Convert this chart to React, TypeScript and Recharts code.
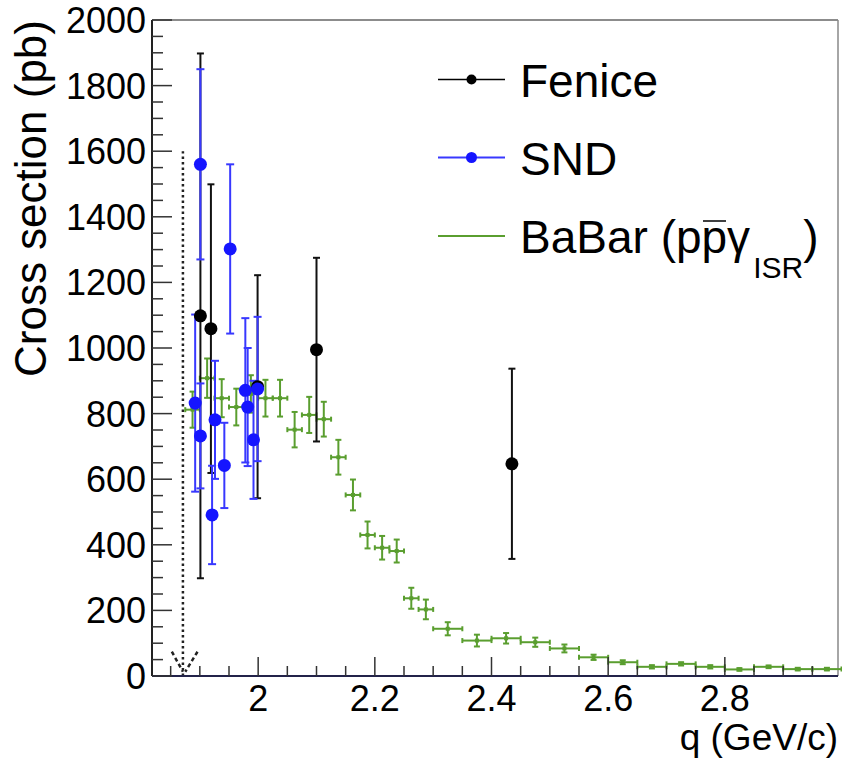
import React from 'react';
import { ScatterChart, Scatter, XAxis, YAxis, ErrorBar, ReferenceLine } from 'recharts';

if (typeof document !== 'undefined') document.body.style.margin = '0';

const FONT = '"Liberation Sans", Arial, Helvetica, sans-serif';

// Fenice
const feniceQ = [1.901, 1.919, 1.999, 2.1, 2.435];
const feniceSigma = [1098, 1059, 882, 995, 647];
const feniceErr = [800, 440, 340, 280, 290];

// SND
const sndQ = [1.892, 1.901, 1.901, 1.921, 1.926, 1.942, 1.952, 1.978, 1.982, 1.992, 1.999];
const sndSigma = [832, 1560, 732, 491, 781, 642, 1302, 871, 820, 720, 875];
const sndErr = [270, 290, 160, 150, 180, 130, 258, 220, 180, 180, 220];

// BaBar (p pbar gamma ISR), bin centres and half widths
const babarQ = [
  1.8875, 1.9125, 1.9375, 1.9625, 1.9875, 2.0125, 2.0375, 2.0625, 2.0875, 2.1125, 2.1375,
  2.1625, 2.1875, 2.2125, 2.2375, 2.2625, 2.2875, 2.325, 2.375, 2.425, 2.475, 2.525, 2.575,
  2.625, 2.675, 2.725, 2.775, 2.825, 2.875, 2.925, 2.975,
];
const babarHalfBin = [
  0.0125, 0.0125, 0.0125, 0.0125, 0.0125, 0.0125, 0.0125, 0.0125, 0.0125, 0.0125, 0.0125,
  0.0125, 0.0125, 0.0125, 0.0125, 0.0125, 0.0125, 0.025, 0.025, 0.025, 0.025, 0.025, 0.025,
  0.025, 0.025, 0.025, 0.025, 0.025, 0.025, 0.025, 0.025,
];
const babarSigma = [
  812, 908, 847, 820, 860, 847, 847, 751, 796, 783, 667, 552, 430, 391, 381, 237, 203,
  144, 108, 115, 103, 84, 57, 42, 28, 37, 28, 20, 28, 21, 21,
];
const babarErr = [
  55, 60, 58, 56, 57, 56, 56, 54, 55, 53, 53, 47, 41, 36, 35, 32, 30,
  20, 18, 16, 14, 12, 8, 6, 5, 5, 5, 4, 4, 4, 4,
];

// axis ticks
const xTicks = [1.85, 1.9, 1.95, 2, 2.05, 2.1, 2.15, 2.2, 2.25, 2.3, 2.35, 2.4, 2.45, 2.5, 2.55, 2.6, 2.65, 2.7, 2.75, 2.8, 2.85, 2.9, 2.95];
const xLabels = [2, 2.2, 2.4, 2.6, 2.8];
const yTicks = Array.from({ length: 41 }, (_, i) => i * 50);
const yLabels = [0, 200, 400, 600, 800, 1000, 1200, 1400, 1600, 1800, 2000];
const xDomain = [1.818, 2.994];

const fenice = feniceQ.map((x, i) => ({ x, y: feniceSigma[i], ey: feniceErr[i] }));
const snd = sndQ.map((x, i) => ({ x, y: sndSigma[i], ey: sndErr[i] }));
const babar = babarQ.map((x, i) => ({ x, y: babarSigma[i], ex: babarHalfBin[i], ey: babarErr[i] }));

const isIn = (list: number[], v: number) => list.some(l => Math.abs(l - v) < 1e-6);

const XTick = (props: any) => {
  const { x, y, payload } = props;
  const major = isIn(xLabels, payload.value);
  return (
    <g>
      <line x1={x} x2={x} y1={y} y2={y - (major ? 19 : 10)} stroke="#333" strokeWidth={1.5} />
      {major && (
        <text x={x} y={y + 35} textAnchor="middle" fontSize={36} fontFamily={FONT} fill="#000">
          {String(payload.value)}
        </text>
      )}
    </g>
  );
};

const YTick = (props: any) => {
  const { x, y, payload } = props;
  const major = isIn(yLabels, payload.value);
  return (
    <g>
      <line x1={x} x2={x + (major ? 20 : 11)} y1={y} y2={y} stroke="#333" strokeWidth={1.5} />
      {major && (
        <text x={x - 6} y={y + 13} textAnchor="end" fontSize={36} fontFamily={FONT} fill="#000">
          {String(payload.value)}
        </text>
      )}
    </g>
  );
};

const dot = (r: number, fill: string) => (p: any) => <circle cx={p.cx} cy={p.cy} r={r} fill={fill} />;
const square = (p: any) => <rect x={p.cx - 2} y={p.cy - 2} width={4} height={4} fill="#5a9e2f" />;

export default function App() {
  return (
    <div style={{ position: 'relative', width: 842, height: 760, background: '#fff' }}>
      <ScatterChart width={842} height={760} margin={{ top: 20, right: 4, bottom: 0, left: 0 }}>
        <XAxis
          type="number"
          dataKey="x"
          domain={xDomain}
          allowDataOverflow
          ticks={xTicks}
          interval={0}
          tick={<XTick />}
          tickSize={0}
          tickMargin={0}
          tickLine={false}
          height={84}
          axisLine={{ stroke: '#23234a', strokeWidth: 2 }}
        />
        <YAxis
          type="number"
          dataKey="y"
          domain={[0, 2000]}
          allowDataOverflow
          ticks={yTicks}
          interval={0}
          tick={<YTick />}
          tickSize={0}
          tickMargin={0}
          tickLine={false}
          width={152}
          axisLine={{ stroke: '#222', strokeWidth: 2 }}
        />
        <ReferenceLine y={2000} stroke="#666" strokeWidth={1.5} ifOverflow="visible" />
        <ReferenceLine x={xDomain[1]} stroke="#888" strokeWidth={1.5} ifOverflow="visible" />
        <ReferenceLine
          segment={[{ x: 1.871, y: 0 }, { x: 1.871, y: 1600 }]}
          stroke="#222"
          strokeWidth={2.5}
          strokeDasharray="2.5 3"
          ifOverflow="visible"
        />
        <ReferenceLine
          segment={[{ x: 1.852, y: 74 }, { x: 1.871, y: 13 }]}
          stroke="#222"
          strokeWidth={2.5}
          strokeDasharray="4 3"
          ifOverflow="visible"
        />
        <ReferenceLine
          segment={[{ x: 1.896, y: 74 }, { x: 1.875, y: 13 }]}
          stroke="#222"
          strokeWidth={2.5}
          strokeDasharray="4 3"
          ifOverflow="visible"
        />
        <Scatter data={babar} shape={square} isAnimationActive={false}>
          <ErrorBar dataKey="ex" direction="x" width={2.5} stroke="#5a9e2f" strokeWidth={2} isAnimationActive={false} />
          <ErrorBar dataKey="ey" direction="y" width={3} stroke="#5a9e2f" strokeWidth={2} isAnimationActive={false} />
        </Scatter>
        <Scatter data={fenice} shape={dot(6.5, '#000')} isAnimationActive={false}>
          <ErrorBar dataKey="ey" direction="y" width={3.5} stroke="#111" strokeWidth={2} isAnimationActive={false} />
        </Scatter>
        <Scatter data={snd} shape={dot(6.5, '#1515ff')} isAnimationActive={false}>
          <ErrorBar dataKey="ey" direction="y" width={4} stroke="#3838ff" strokeWidth={2} isAnimationActive={false} />
        </Scatter>
      </ScatterChart>
      <svg
        width={842}
        height={760}
        style={{ position: 'absolute', left: 0, top: 0, pointerEvents: 'none' }}
        fontFamily={FONT}
      >
        <text transform="translate(46,20) rotate(-90)" textAnchor="end" fontSize={44} fill="#000">
          Cross section (pb)
        </text>
        <text x={838} y={750} textAnchor="end" fontSize={37} fill="#000">
          q (GeV/c)
        </text>
        <line x1={438} x2={505} y1={79.5} y2={79.5} stroke="#000" strokeWidth={1.5} />
        <circle cx={471.5} cy={79.5} r={5} fill="#000" />
        <text x={520} y={96.5} fontSize={46} fill="#000">Fenice</text>
        <line x1={438} x2={505} y1={157.5} y2={157.5} stroke="#3838ff" strokeWidth={2} />
        <circle cx={471.5} cy={157.5} r={5.5} fill="#1515ff" />
        <text x={520} y={175} fontSize={46} fill="#000">SND</text>
        <line x1={438} x2={505} y1={236} y2={236} stroke="#5a9e2f" strokeWidth={2} />
        <text x={520} y={253} fontSize={46} fill="#000">
          BaBar (pp&gamma;
          <tspan fontSize={30} dx={3} dy={25}>ISR</tspan>
          <tspan dy={-25}>)</tspan>
        </text>
        <line x1={703} x2={726} y1={221} y2={221} stroke="#000" strokeWidth={1.5} />
      </svg>
    </div>
  );
}
